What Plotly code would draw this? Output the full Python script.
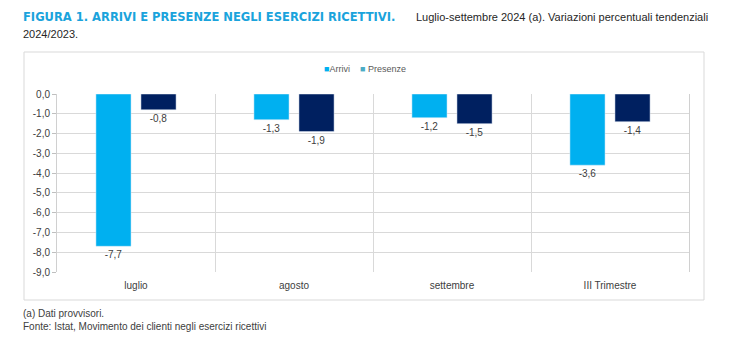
import plotly.graph_objects as go

categories = ["luglio", "agosto", "settembre", "III Trimestre"]
arrivi = [-7.7, -1.3, -1.2, -3.6]
presenze = [-0.8, -1.9, -1.5, -1.4]
ytick_vals = [0, -1, -2, -3, -4, -5, -6, -7, -8, -9]
ytick_text = ["0,0", "-1,0", "-2,0", "-3,0", "-4,0", "-5,0", "-6,0", "-7,0", "-8,0", "-9,0"]
series_names = ["Arrivi", "Presenze"]

C_ARR = "#00B0F0"
C_PRE = "#002060"
C_PRE_LEG = "#4BACC6"
SANS = "Liberation Sans, Arial, sans-serif"
TXT = "#404040"

PW, PH = 632, 178  # plot area size in px (for paper-coordinate conversions)


def fmt(v):
    return f"{v:.1f}".replace(".", ",")


def px(xpix):
    return (xpix - 57) / PW


def py(ypix):
    return (272 - ypix) / PH


fig = go.Figure()
fig.add_trace(go.Bar(x=categories, y=arrivi, name=series_names[0], marker_color=C_ARR,
                     text=[fmt(v) for v in arrivi], textposition="outside",
                     textfont=dict(family=SANS, size=10, color=TXT),
                     showlegend=False, cliponaxis=False))
fig.add_trace(go.Bar(x=categories, y=presenze, name=series_names[1], marker_color=C_PRE,
                     text=[fmt(v) for v in presenze], textposition="outside",
                     textfont=dict(family=SANS, size=10, color=TXT),
                     showlegend=False, cliponaxis=False))

NB = "\u00a0"
legend_text = (f"<span style='color:{C_ARR}'>■</span>{series_names[0]}"
               f"{NB * 4}<span style='color:{C_PRE_LEG}'>■</span>{NB}{series_names[1]}")

fig.update_layout(
    width=731, height=343,
    margin=dict(l=57, r=42, t=94, b=71),
    paper_bgcolor="white", plot_bgcolor="white",
    barmode="group", bargap=0.43, bargroupgap=0.22,
    separators=",.",
    font=dict(family=SANS, size=10, color=TXT),
    showlegend=False,
    xaxis=dict(type="category", tickson="boundaries", showgrid=True, gridcolor="#d9d9d9",
               gridwidth=1, ticks="", showline=False, zeroline=False, ticklabelstandoff=6,
               tickfont=dict(family=SANS, size=10, color=TXT)),
    yaxis=dict(range=[-9, 0], tickvals=ytick_vals, ticktext=ytick_text,
               showgrid=True, gridcolor="#d9d9d9", gridwidth=1, zeroline=False,
               showline=True, mirror=True, linecolor="#d0d0d0", ticks="outside", ticklen=4,
               tickcolor="#bfbfbf", tickfont=dict(family=SANS, size=10, color=TXT)),
    shapes=[dict(type="rect", xref="paper", yref="paper",
                 x0=px(24), x1=px(704), y0=py(300), y1=py(52),
                 line=dict(color="#d9d9d9", width=1), fillcolor="rgba(0,0,0,0)", layer="below")],
    annotations=[
        dict(text="<b>FIGURA 1. ARRIVI E PRESENZE NEGLI ESERCIZI RICETTIVI.</b>",
             xref="paper", yref="paper", x=px(21), y=py(17),
             xanchor="left", yanchor="middle", showarrow=False,
             font=dict(family="DejaVu Sans Condensed, DejaVu Sans", size=12.8, color="#1AA3DC")),
        dict(text="Luglio-settembre 2024 (a). Variazioni percentuali tendenziali",
             xref="paper", yref="paper", x=px(710), y=py(17),
             xanchor="right", yanchor="middle", showarrow=False,
             font=dict(family=SANS, size=11, color="#262626")),
        dict(text="2024/2023.",
             xref="paper", yref="paper", x=px(21), y=py(34),
             xanchor="left", yanchor="middle", showarrow=False,
             font=dict(family=SANS, size=11, color="#262626")),
        dict(text=legend_text,
             xref="paper", yref="paper", x=px(365), y=py(69),
             xanchor="center", yanchor="middle", showarrow=False,
             font=dict(family=SANS, size=9, color="#595959")),
        dict(text="(a) Dati provvisori.<br>Fonte: Istat, Movimento dei clienti negli esercizi ricettivi",
             xref="paper", yref="paper", x=px(21), y=py(306),
             xanchor="left", yanchor="top", align="left", showarrow=False,
             font=dict(family=SANS, size=10, color=TXT)),
    ],
)

fig.write_html("out.html")
